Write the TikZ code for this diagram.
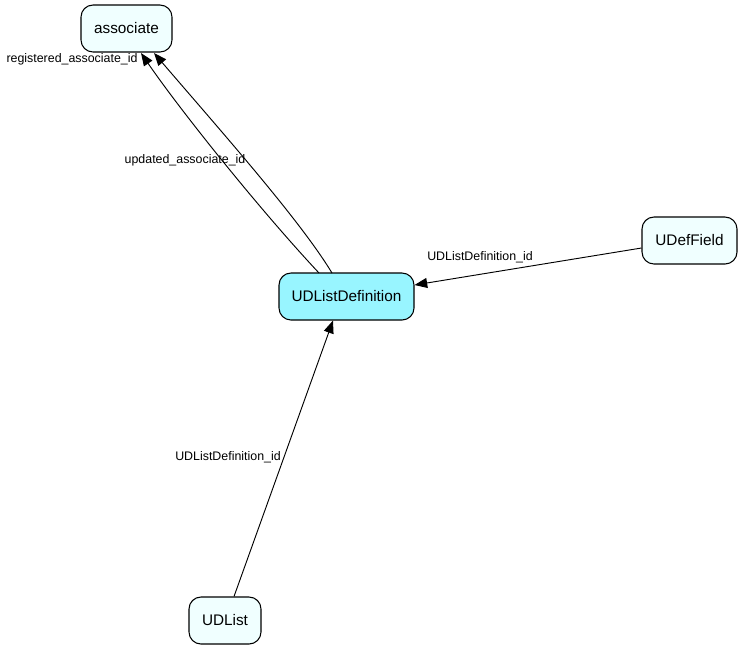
\documentclass[tikz,border=0pt]{standalone}
\usepackage{fontspec}
\setmainfont{Liberation Sans}
\usetikzlibrary{arrows.meta}
\definecolor{nodefill}{HTML}{F0FFFF}
\definecolor{mainfill}{HTML}{98F5FF}
\begin{document}
\begin{tikzpicture}[x=0.75pt,y=-0.75pt,
  entity/.style={draw=black, line width=0.8pt, rounded corners=9pt, fill=nodefill,
    inner sep=0pt, font=\fontsize{11.5}{13}\selectfont},
  link/.style={draw=black, line width=0.7pt, -{Triangle[length=9.5pt,width=7.5pt]}},
  lbl/.style={font=\fontsize{9.3}{10}\selectfont, inner sep=0pt}]
\useasboundingbox (0,0) rectangle (741,651);
\node[entity, minimum width=68.25pt, minimum height=35.25pt] (assoc) at (126.5,28.5) {associate};
\node[entity, fill=mainfill, minimum width=101.25pt, minimum height=35.25pt] (udld) at (346.5,296.5) {UDListDefinition};
\node[entity, minimum width=71.25pt, minimum height=35.25pt] (udf) at (689.5,240.5) {UDefField};
\node[entity, minimum width=54pt, minimum height=35.25pt] (udl) at (225,620.5) {UDList};
\coordinate (a1) at (141,53);
\coordinate (a2) at (154,53);
\coordinate (s1) at (319,273);
\coordinate (s2) at (332,273);
\draw[link] (s1) .. controls (260,210) and (180,110) .. (a1);
\draw[link] (s2) .. controls (300,220) and (220,130) .. (a2);
\draw[link] (udf.west |- 0,248) -- (udld.east |- 0,285);
\draw[link] (udl.north -| 234,0) -- (udld.south -| 333,0);
\node[lbl] (l1) at (72,59) {registered\_associate\_id};
\node[lbl] (l2) at (185,160) {updated\_associate\_id};
\node[lbl] (l3) at (480,257) {UDListDefinition\_id};
\node[lbl] (l4) at (228,457) {UDListDefinition\_id};
\end{tikzpicture}
\end{document}
